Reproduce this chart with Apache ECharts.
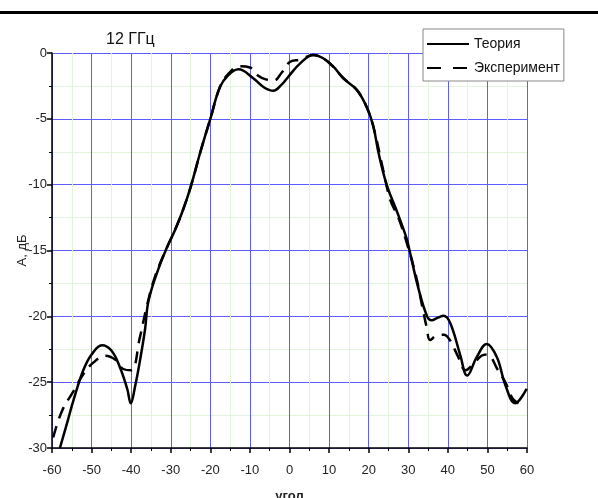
<!DOCTYPE html>
<html>
<head>
<meta charset="utf-8">
<script src="https://cdn.jsdelivr.net/npm/echarts@6/dist/echarts.min.js"></script>
<style>
  html, body { margin: 0; padding: 0; background: #fff; }
  #chart { width: 598px; height: 498px; }
</style>
</head>
<body>
<div id="chart"></div>
<script>
// theory (solid)
var theoryX = [-58, -56, -54.6, -52.1, -50, -47.4, -45, -42.8, -41, -40.1, -39, -37.8, -36.5, -35.6, -33, -31, -29, -27, -25, -22.5, -20, -17.6, -15.5, -12.9, -9.1, -6.5, -4.1, -2, -0.3, 2.7, 6, 8.5, 11.1, 13.6, 17, 19.5, 21.2, 22.5, 24.6, 27.1, 29.6, 30.4, 32.5, 34.7, 35.9, 37.5, 38.9, 40.6, 43.1, 44.9, 47.3, 49.8, 52.4, 54.5, 57, 59.9];
var theoryY = [-30, -27.9, -26.4, -24.1, -22.9, -22.2, -22.6, -23.9, -25.5, -26.6, -25.3, -23.4, -21, -18.8, -16.3, -14.8, -13.5, -12, -10.2, -7.5, -5, -2.6, -1.7, -1.24, -1.93, -2.6, -2.87, -2.4, -1.8, -0.79, -0.15, -0.4, -1.04, -1.93, -2.8, -4.1, -5.6, -7.6, -10.05, -12, -14.1, -15.1, -17.8, -19.95, -20.3, -20.1, -19.95, -20.5, -22.9, -24.5, -23.1, -22.1, -23.1, -25.2, -26.6, -25.5];

// experiment (dashed)
var expX = [-59.7, -57.5, -54.6, -52.1, -49.5, -46.6, -44, -42, -40, -37.8, -36.1, -34, -31, -29, -27, -25, -22.5, -20, -17.6, -15.5, -12.5, -10, -8, -6, -4, -2, 0, 2.7, 6, 8.5, 11, 13.6, 17, 19.5, 21.2, 23.6, 25.5, 27.5, 30, 32, 33.5, 34.7, 35.5, 37, 39, 40.5, 42.5, 44.5, 46.5, 48.5, 50, 52.5, 54.5, 56.5, 58.5];
var expY = [-29.2, -27.2, -25.7, -24.4, -23.5, -23.0, -23.3, -24.0, -24.1, -21.6, -19.3, -17, -14.8, -13.5, -12, -10.2, -7.5, -5, -2.6, -1.6, -1.0, -1.1, -1.7, -2.0, -2.1, -1.5, -0.7, -0.5, -0.15, -0.4, -1.04, -1.9, -2.8, -4.1, -5.6, -8.8, -11.2, -12.5, -14.8, -17, -19.2, -20.9, -21.8, -21.5, -21.4, -21.8, -23.0, -24.1, -23.6, -23.0, -22.9, -24.0, -25.0, -26.3, -26.7];

var xTicks = { min: -60, max: 60, step: 10 };
var yTicks = { min: -30, max: 0, step: 5 };

function pairs(xs, ys) {
  var out = [];
  for (var i = 0; i < xs.length; i++) out.push([xs[i], ys[i]]);
  return out;
}

var font = "'Liberation Sans', Arial, sans-serif";
var chart = echarts.init(document.getElementById('chart'));

var axisCommon = {
  axisLine: { show: true, onZero: false, lineStyle: { color: '#000', width: 1.5 } },
  axisTick: { show: true, inside: false, length: 5, lineStyle: { color: '#000', width: 1.5 } },
  minorTick: { show: true, splitNumber: 2, length: 3, lineStyle: { color: '#000', width: 1 } },
  splitLine: { show: true, lineStyle: { color: '#5c5cff', width: 1 } },
  minorSplitLine: { show: true, lineStyle: { color: '#e4f3dc', width: 1 } },
  axisLabel: { color: '#222', fontSize: 13, fontFamily: font }
};

var option = {
  animation: false,
  backgroundColor: '#fff',
  grid: { left: 52, right: 71, top: 53, bottom: 50, containLabel: false, outerBoundsMode: 'none' },
  title: {
    text: '12 ГГц', left: 101, top: 27,
    textStyle: { fontSize: 16, fontWeight: 'normal', color: '#111', fontFamily: font }
  },
  legend: {
    orient: 'vertical', left: 423, top: 29,
    padding: [8, 4, 6, 3], itemGap: 10,
    itemWidth: 42, itemHeight: 14,
    backgroundColor: '#fff', borderColor: '#888', borderWidth: 1,
    itemStyle: { opacity: 0 },
    textStyle: { fontSize: 14, color: '#111', fontFamily: font },
    data: [
      { name: 'Теория' },
      { name: 'Эксперимент', lineStyle: { type: [14, 12] } }
    ]
  },
  xAxis: Object.assign({}, axisCommon, {
    type: 'value', min: xTicks.min, max: xTicks.max, interval: xTicks.step,
    name: 'угол', nameLocation: 'middle', nameGap: 42,
    nameTextStyle: { fontSize: 13, fontWeight: 'bold', color: '#222', fontFamily: font },
    axisLabel: { color: '#222', fontSize: 13, fontFamily: font, margin: 16 }
  }),
  yAxis: Object.assign({}, axisCommon, {
    type: 'value', min: yTicks.min, max: yTicks.max, interval: yTicks.step,
    name: 'A, дБ', nameLocation: 'middle', nameGap: 23, nameMoveOverlap: false,
    nameTextStyle: { fontSize: 13, color: '#222', fontFamily: font },
    axisLabel: { color: '#222', fontSize: 13, fontFamily: font, margin: 5 }
  }),
  graphic: [
    { type: 'rect', left: 0, top: 11, shape: { width: 598, height: 3 }, style: { fill: '#000' } }
  ],
  series: [
    {
      name: 'Теория', type: 'line', smooth: 0.4, symbol: 'none',
      data: pairs(theoryX, theoryY),
      lineStyle: { color: '#000', width: 2.5 },
      itemStyle: { color: '#000' }
    },
    {
      name: 'Эксперимент', type: 'line', smooth: 0.4, symbol: 'none',
      data: pairs(expX, expY),
      lineStyle: { color: '#000', width: 2.5, type: [12, 8] },
      itemStyle: { color: '#000' }
    }
  ]
};
chart.setOption(option);
</script>
</body>
</html>
